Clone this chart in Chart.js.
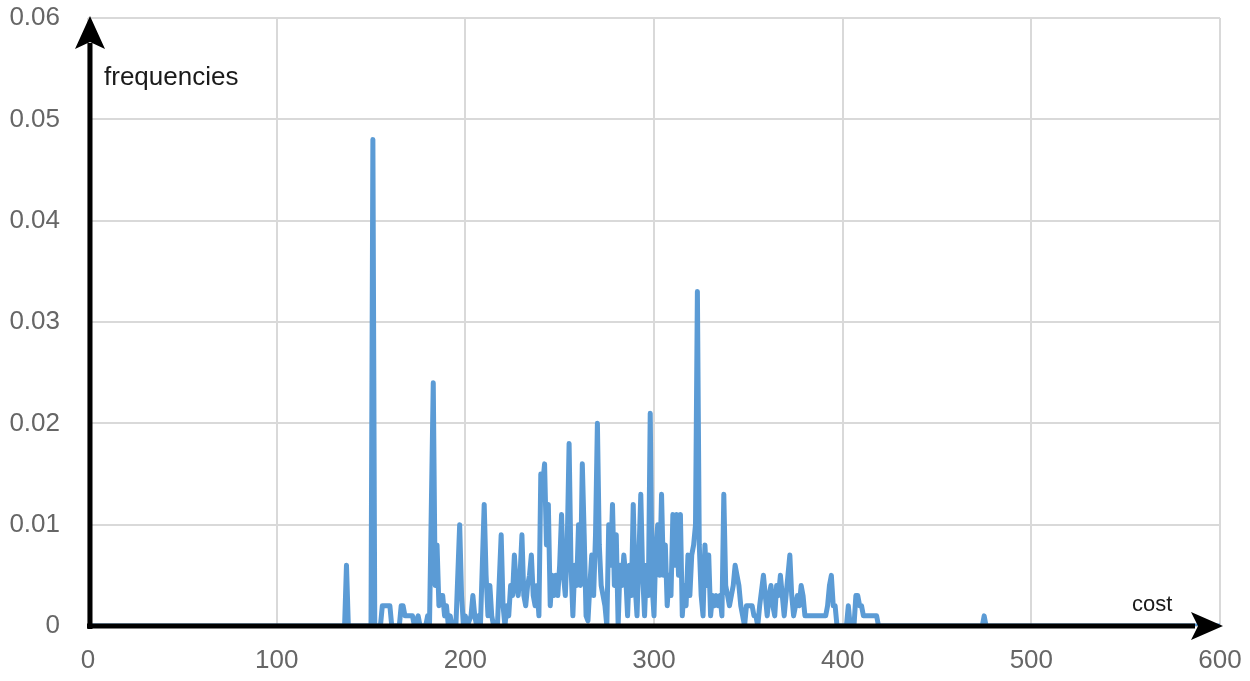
<!DOCTYPE html>
<html>
<head>
<meta charset="utf-8">
<script src="https://cdn.jsdelivr.net/npm/chart.js@4.4.1/dist/chart.umd.min.js"></script>
<style>
html,body{margin:0;padding:0;background:#fff;}
#wrap{width:1250px;height:681px;}
</style>
</head>
<body>
<div id="wrap"><canvas id="c" width="1250" height="681"></canvas></div>
<script>
const xAxisTitle = "cost";
const yAxisTitle = "frequencies";
const xTicks = [0, 100, 200, 300, 400, 500, 600];
const yTicks = [0, 0.01, 0.02, 0.03, 0.04, 0.05, 0.06];

const costs = [0,136,137,138,150,151,152,155,156,160,161,165,166,167,168,172,173,175,176,179,180,181,
183,184,185,186,187,188,189,190,191,192,193,195,197,198,199,200,201,203,204,205,206,207,208,210,211,212,213,214,215,217,
219,220,221,222,223,224,225,226,227,228,229,230,231,232,233,234,235,236,237,238,239,240,241,242,243,244,245,246,247,248,249,
250,251,252,253,254,255,256,257,258,259,260,261,262,263,264,265,266,267,268,269,270,271,272,273,274,275,276,277,278,279,
280,281,282,283,284,285,286,287,288,289,290,291,292,293,294,295,296,297,298,299,300,301,302,303,304,305,306,307,308,309,
310,311,312,313,314,315,316,317,318,319,320,321,322,323,324,325,326,327,328,329,330,331,332,333,334,335,336,337,338,339,
340,341,342,343,344,345,346,347,348,349,352,353,354,355,356,358,359,360,361,362,363,364,365,366,367,368,369,370,371,372,
373,374,375,376,377,378,379,380,391,392,393,394,395,396,397,402,403,404,406,407,408,409,410,411,418,419,474,475,476,600];

const freqs = [0,0,0.006,0,0,0.048,0,0,0.002,0.002,0,0,0.002,0.002,0.001,0.001,0,0.001,0,0,0.001,0,
0.024,0.004,0.008,0.002,0.003,0.003,0.001,0.002,0,0.001,0,0,0.010,0.003,0,0.001,0,0.001,0.003,0.001,0,0.001,0,0.012,0.005,0.001,0.004,0.001,0,0,
0.009,0.002,0,0.002,0.001,0.004,0.003,0.007,0.004,0.003,0.005,0.009,0.003,0.002,0.004,0.005,0.007,0.003,0.002,0.004,0.001,0.015,0.014,0.016,0.008,0.012,0.002,0.005,0.003,0.005,0.003,
0.006,0.011,0.005,0.003,0.008,0.018,0.006,0.001,0.006,0.004,0.010,0.004,0.016,0.009,0.001,0.0005,0.004,0.007,0.003,0.009,0.020,0.008,0.004,0.003,0.002,0,0.010,0.006,0.012,0.004,
0.009,0,0.006,0.004,0.007,0.005,0.001,0.006,0.003,0.012,0.004,0.001,0.007,0.013,0.005,0.001,0.006,0.003,0.021,0.004,0.001,0.008,0.010,0.005,0.013,0.005,0.008,0.002,0.005,0.003,
0.011,0.006,0.011,0.005,0.011,0.001,0.004,0.002,0.007,0.003,0.007,0.008,0.010,0.033,0.008,0.003,0.001,0.008,0.004,0.007,0.001,0.003,0.002,0.003,0.002,0.003,0.001,0.013,0.004,0.003,
0.002,0.003,0.004,0.006,0.005,0.004,0.002,0.001,0,0.002,0.002,0.001,0.001,0,0.002,0.005,0.003,0.001,0.003,0.004,0.002,0.001,0.004,0.003,0.005,0.003,0.001,0.003,0.005,0.007,
0.003,0.001,0.002,0.003,0.002,0.004,0.003,0.001,0.001,0.002,0.004,0.005,0.002,0.002,0,0,0.002,0,0,0.003,0.003,0.002,0.002,0.001,0.001,0,0,0.001,0,0];

const points = costs.map((c, i) => ({x: c, y: freqs[i]}));

const arrowsPlugin = {
  id: 'arrows',
  afterDatasetsDraw(chart) {
    const ctx = chart.ctx;
    const a = chart.chartArea;
    const x0 = a.left + 2;
    const y0 = a.bottom;
    ctx.save();
    ctx.fillStyle = '#000';
    ctx.strokeStyle = '#000';
    ctx.lineWidth = 5;
    ctx.beginPath();
    ctx.moveTo(x0, y0 + 3);
    ctx.lineTo(x0, a.top + 25);
    ctx.stroke();
    ctx.beginPath();
    ctx.moveTo(x0, a.top - 2);
    ctx.lineTo(x0 - 15, a.top + 31);
    ctx.lineTo(x0, a.top + 24);
    ctx.lineTo(x0 + 15, a.top + 31);
    ctx.closePath();
    ctx.fill();
    ctx.beginPath();
    ctx.moveTo(a.left - 1, y0);
    ctx.lineTo(a.right - 25, y0);
    ctx.stroke();
    ctx.beginPath();
    ctx.moveTo(a.right + 3, y0);
    ctx.lineTo(a.right - 29, y0 - 14);
    ctx.lineTo(a.right - 22, y0);
    ctx.lineTo(a.right - 29, y0 + 14);
    ctx.closePath();
    ctx.fill();
    ctx.fillStyle = '#1a1a1a';
    ctx.textBaseline = 'alphabetic';
    ctx.textAlign = 'left';
    ctx.font = '26px "Liberation Sans", Arial, sans-serif';
    ctx.fillText(yAxisTitle, x0 + 14, a.top + 67);
    ctx.font = '22px "Liberation Sans", Arial, sans-serif';
    ctx.fillText(xAxisTitle, a.right - 88, y0 - 15);
    ctx.restore();
  }
};

new Chart(document.getElementById('c'), {
  type: 'line',
  data: {
    datasets: [{
      data: points,
      borderColor: '#5b9bd5',
      borderWidth: 5,
      pointRadius: 0,
      tension: 0,
      fill: false,
      borderJoinStyle: 'round',
      borderCapStyle: 'round'
    }]
  },
  options: {
    responsive: false,
    animation: false,
    devicePixelRatio: 1,
    layout: { padding: { top: 18, right: 30, bottom: 0, left: 0 } },
    plugins: { legend: { display: false }, tooltip: { enabled: false } },
    scales: {
      x: {
        type: 'linear',
        min: 0, max: 600,
        afterBuildTicks(scale) { scale.ticks = xTicks.map(v => ({value: v})); },
        afterFit(scale) { scale.height = 55; scale.paddingLeft = 0; scale.paddingRight = 0; },
        grid: { color: '#d9d9d9', lineWidth: 2, drawTicks: false },
        border: { display: false },
        ticks: {
          padding: 19,
          color: '#666',
          font: { family: '"Liberation Sans", Arial, sans-serif', size: 26 },
          maxRotation: 0
        }
      },
      y: {
        min: 0, max: 0.06,
        afterBuildTicks(scale) { scale.ticks = yTicks.map(v => ({value: v})); },
        afterFit(scale) { scale.width = 88; scale.paddingTop = 0; scale.paddingBottom = 0; },
        grid: { color: '#d9d9d9', lineWidth: 2, drawTicks: false },
        border: { display: false },
        ticks: {
          padding: 28,
          color: '#666',
          font: { family: '"Liberation Sans", Arial, sans-serif', size: 26 },
          callback: (v) => v === 0 ? '0' : v.toFixed(2)
        }
      }
    }
  },
  plugins: [arrowsPlugin]
});
</script>
</body>
</html>
